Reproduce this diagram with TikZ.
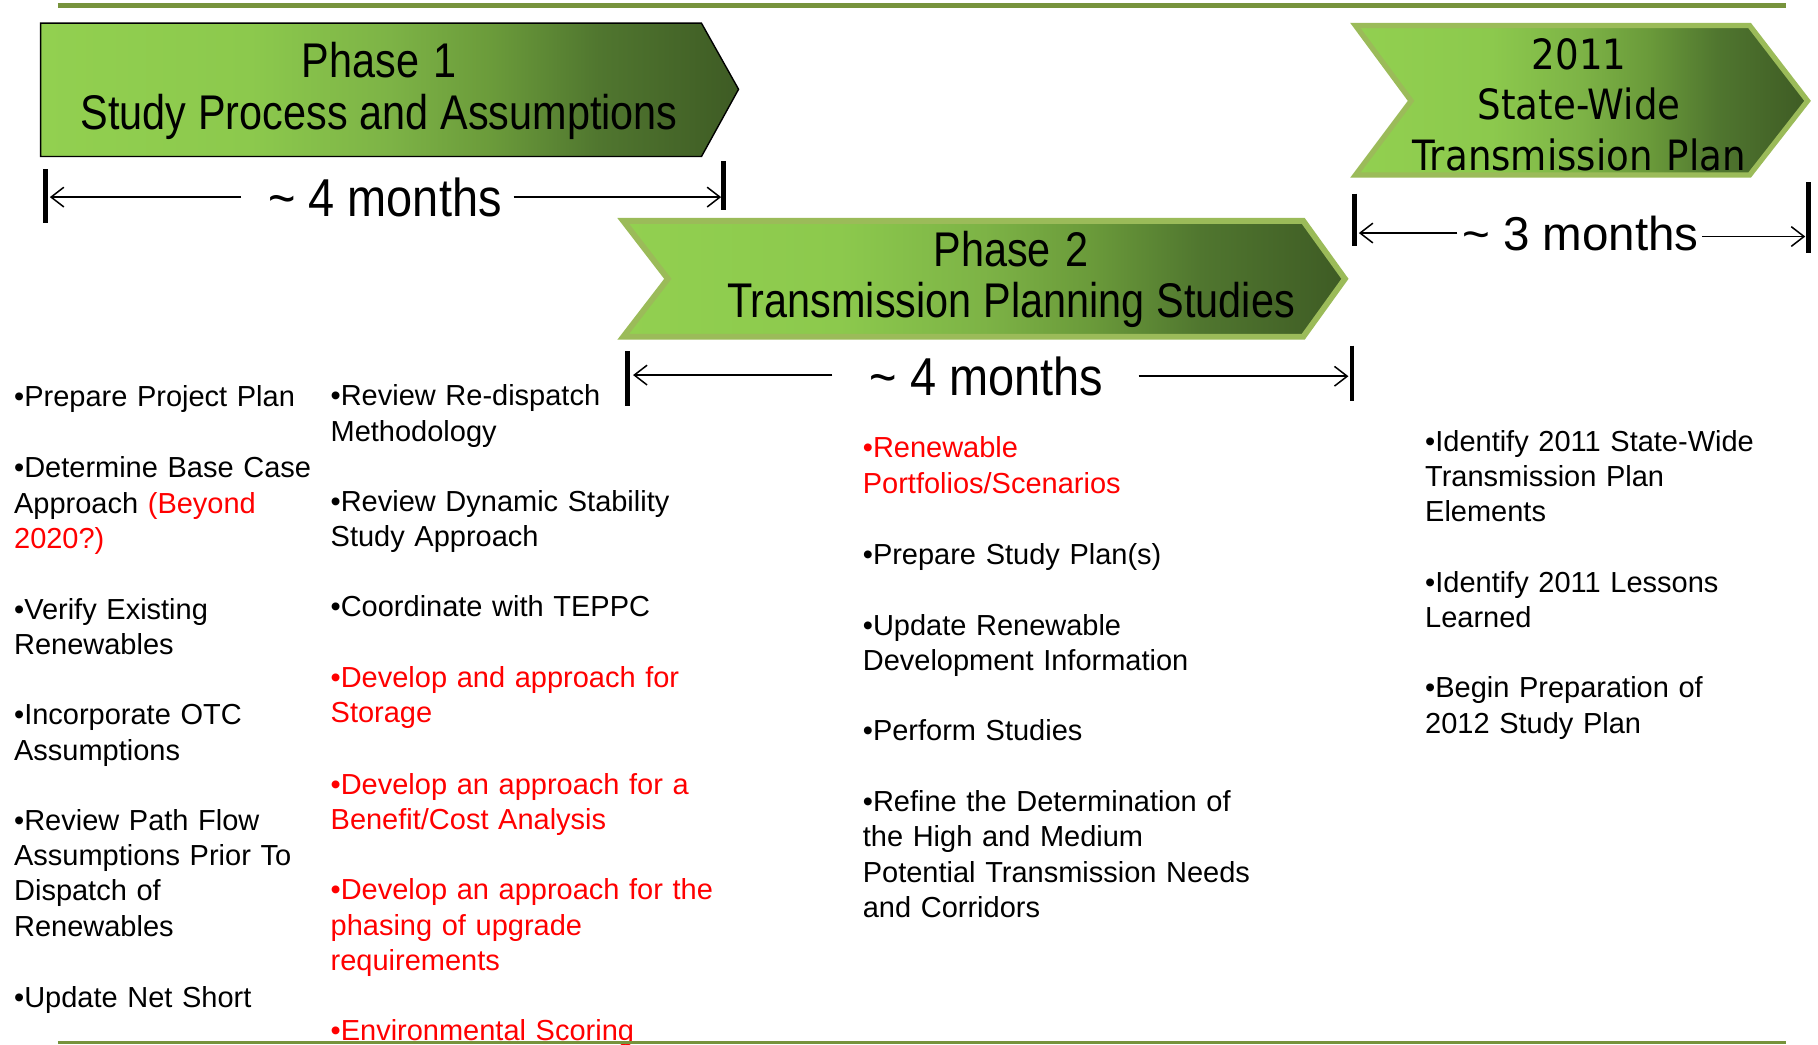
\documentclass[tikz,border=0pt]{standalone}
\usepackage{fontspec}
\setmainfont{Liberation Sans}
\newfontfamily\condf[FakeStretch=0.85]{Liberation Sans}
\newfontfamily\condm[FakeStretch=0.88]{Liberation Sans}
\newfontfamily\tahf[FakeStretch=0.89]{DejaVu Sans}
\newcommand\tightsp{\spaceskip=9.5pt plus 1pt minus 1pt\relax}
\usetikzlibrary{arrows.meta}
\definecolor{gLight}{HTML}{92D050}
\definecolor{gA}{HTML}{8CC94D}
\definecolor{gB}{HTML}{7DB346}
\definecolor{gC}{HTML}{6A9A3A}
\definecolor{gD}{HTML}{50762F}
\definecolor{gDark}{HTML}{3E5B24}
\definecolor{olive}{HTML}{77933C}
\definecolor{edgeG}{HTML}{9BBB59}
\definecolor{redtxt}{HTML}{FF0000}
\pgfdeclarehorizontalshading{phaseshade}{100bp}{color(0bp)=(gLight); color(25bp)=(gLight); color(40bp)=(gA); color(50bp)=(gB); color(57.5bp)=(gC); color(65bp)=(gD); color(75bp)=(gDark); color(100bp)=(gDark)}
\begin{document}
\begin{tikzpicture}[x=1pt,y=-1pt,
  rule/.style={draw=olive},
  phasebox/.style={shading=phaseshade},
  ttl/.style={font=\condf\fontsize{42}{44.5}\selectfont, align=center, text width=640pt, anchor=base, inner sep=0pt},
  ttlB/.style={font=\tahf\fontsize{36}{43.5}\selectfont, align=center, text width=420pt, anchor=base, inner sep=0pt},
  monA/.style={font=\condm\fontsize{46}{50}\selectfont, anchor=base, inner sep=0pt},
  monB/.style={font=\fontsize{41}{46}\selectfont, anchor=base, inner sep=0pt},
  bar/.style={line width=4pt},
  marrow/.style={line width=1.3pt, -{Straight Barb[length=11pt,width=17pt,line width=1.3pt]}},
  item/.style={font=\fontsize{25}{30.5}\selectfont, align=left, text width=420pt, anchor=base west, inner sep=0pt},
  reditem/.style={item, text=redtxt}]
\useasboundingbox (0,0) rectangle (1568,901);
\fill[white] (0,0) rectangle (1568,901);

% rules
\draw[rule, line width=4pt] (50,5) -- (1540,5);

% Phase 1 box
\path[phasebox, draw=black, line width=1.2pt] (35,20) -- (605,20) -- (637,77) -- (605,135) -- (35,135) -- cycle;
\node[ttl] (p1) at (327,67) {\tightsp Phase 1\\Study Process and Assumptions};

% Phase 2 chevron
\path[phasebox, draw=edgeG, line width=5pt] (537.5,190.5) -- (1124,190.5) -- (1160,240.5) -- (1124,290.5) -- (537.5,290.5) -- (576,240.5) -- cycle;
\node[ttl, font=\condf\fontsize{42}{44}\selectfont] (p2) at (872,230) {\tightsp Phase 2\\Transmission Planning Studies};

% 2011 chevron
\path[phasebox, draw=edgeG, line width=4.5pt] (1169,22) -- (1509,22) -- (1559,87) -- (1509,151) -- (1169,151) -- (1217,87) -- cycle;
\node[ttlB] (p3) at (1362,60) {2011\\State-Wide\\Transmission Plan};

% Phase 1 duration
\node[monA] (m1) at (332,187) {\textasciitilde{} 4 months};
\coordinate (m1barLt) at (39,146); \coordinate (m1barLb) at (39,192);
\coordinate (m1barRt) at (624,139); \coordinate (m1barRb) at (624,181);
\draw[bar] (m1barLt) -- (m1barLb);
\draw[bar] (m1barRt) -- (m1barRb);
\coordinate (m1s1) at (208,170); \coordinate (m1e1) at (43,170);
\coordinate (m1s2) at (443,170); \coordinate (m1e2) at (622,170);
\draw[marrow] (m1s1) -- (m1e1);
\draw[marrow] (m1s2) -- (m1e2);

% Phase 2 duration
\node[monA] (m2) at (851,341) {\textasciitilde{} 4 months};
\coordinate (m2barLt) at (541,303); \coordinate (m2barLb) at (541,350);
\coordinate (m2barRt) at (1166,298); \coordinate (m2barRb) at (1166,346);
\draw[bar] (m2barLt) -- (m2barLb);
\draw[bar] (m2barRt) -- (m2barRb);
\coordinate (m2s1) at (718,323.5); \coordinate (m2e1) at (546,323.5);
\coordinate (m2s2) at (982,324.5); \coordinate (m2e2) at (1163,324.5);
\draw[marrow] (m2s1) -- (m2e1);
\draw[marrow] (m2s2) -- (m2e2);

% 2011 duration
\node[monB] (m3) at (1363,216) {\textasciitilde{} 3 months};
\coordinate (m3barLt) at (1168,167); \coordinate (m3barLb) at (1168,212);
\coordinate (m3barRt) at (1560,157); \coordinate (m3barRb) at (1560,218);
\draw[bar] (m3barLt) -- (m3barLb);
\draw[bar] (m3barRt) -- (m3barRb);
\coordinate (m3s1) at (1257,201); \coordinate (m3e1) at (1172,201);
\coordinate (m3s2) at (1468,204); \coordinate (m3e2) at (1557,204);
\draw[marrow] (m3s1) -- (m3e1);
\draw[marrow] (m3s2) -- (m3e2);

% Column 1
\node[item] (c1a) at (12,351) {•Prepare Project Plan};
\node[item] (c1b) at (12,412) {•Determine Base Case\\Approach {\color{redtxt}(Beyond}\\{\color{redtxt}2020?)}};
\node[item] (c1c) at (12,534) {•Verify Existing\\Renewables};
\node[item] (c1d) at (12,625) {•Incorporate OTC\\Assumptions};
\node[item] (c1e) at (12,716) {•Review Path Flow\\Assumptions Prior To\\Dispatch of\\Renewables};
\node[item] (c1f) at (12,869) {•Update Net Short};

% Column 2
\node[item] (c2a) at (285,350) {•Review Re-dispatch\\Methodology};
\node[item] (c2b) at (285,441) {•Review Dynamic Stability\\Study Approach};
\node[item] (c2c) at (285,532) {•Coordinate with TEPPC};
\node[reditem] (c2d) at (285,593) {•Develop and approach for\\Storage};
\node[reditem] (c2e) at (285,685) {•Develop an approach for a\\Benefit/Cost Analysis};
\node[reditem] (c2f) at (285,776) {•Develop an approach for the\\phasing of upgrade\\requirements};
\node[reditem] (c2g) at (285,897) {•Environmental Scoring};

% Column 3
\node[reditem] (c3a) at (744,395) {•Renewable\\Portfolios/Scenarios};
\node[item] (c3b) at (744,487) {•Prepare Study Plan(s)};
\node[item] (c3c) at (744,548) {•Update Renewable\\Development Information};
\node[item] (c3d) at (744,639) {•Perform Studies};
\node[item] (c3e) at (744,700) {•Refine the Determination of\\the High and Medium\\Potential Transmission Needs\\and Corridors};

% Column 4
\node[item] (c4a) at (1229,389) {•Identify 2011 State-Wide\\Transmission Plan\\Elements};
\node[item] (c4b) at (1229,511) {•Identify 2011 Lessons\\Learned};
\node[item] (c4c) at (1229,602) {•Begin Preparation of\\2012 Study Plan};

% bottom rule, over the cut-off text
\draw[rule, line width=2pt] (50,899) -- (1540,899);
\end{tikzpicture}
\end{document}
